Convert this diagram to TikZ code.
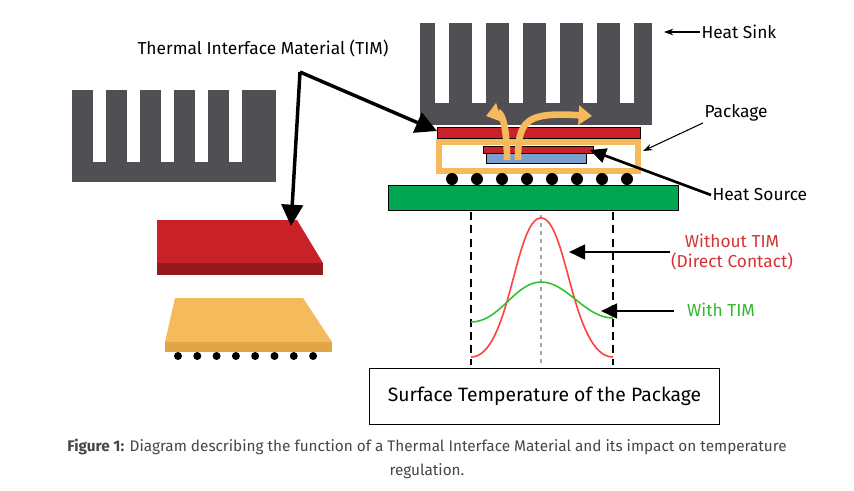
\documentclass[tikz,border=0pt]{standalone}
\usepackage{fontspec}
\setmainfont{Fira Sans}
\usetikzlibrary{arrows.meta}
\definecolor{sink}{RGB}{80,79,84}
\definecolor{timred}{RGB}{200,34,40}
\definecolor{timdark}{RGB}{150,25,30}
\definecolor{pkg}{RGB}{244,186,92}
\definecolor{pkgdark}{RGB}{225,165,70}
\definecolor{board}{RGB}{0,166,81}
\definecolor{die}{RGB}{120,160,205}
\definecolor{capg}{RGB}{70,70,70}
\tikzset{
 lbl/.style={inner sep=1pt,font=\fontsize{13}{15}\selectfont},
 thinarr/.style={-{Stealth[length=7pt,width=5pt]},line width=0.8pt},
 bigarr/.style={-{Triangle[length=16pt,width=16pt]},line width=2.6pt},
 midarr/.style={-{Triangle[length=12pt,width=11pt]},line width=2pt},
 vdash/.style={dashed,line width=1.4pt,dash pattern=on 6pt off 4pt},
 ball/.style={fill=black}
}
\begin{document}
\begin{tikzpicture}[x=0.75pt,y=-0.75pt]
\useasboundingbox (0,0) rectangle (854,490);
% right heat sink
\fill[sink] (420,23) rectangle (652,125);
\foreach \x in {435,472,509,546,583,620} \fill[white] (\x,23) rectangle (\x+14,103);
% left heat sink
\fill[sink] (72,90) rectangle (276,182);
\foreach \x in {93,127,161,195,229} \fill[white] (\x,90) rectangle (\x+13,162);
% TIM layer
\fill[timred,draw=black,line width=0.5pt] (437,127) rectangle (640,138);
% package
\draw[pkg,line width=4pt,fill=white] (439,142) rectangle (638,171);
\fill[timred,draw=black,line width=0.5pt] (483,146) rectangle (593,153);
\fill[die,draw=black,line width=0.5pt] (486,153) rectangle (586,163);
\foreach \x in {452,477,502,527,552,577,602,627} \fill[ball] (\x,179) circle (6);
\fill[board,draw=black,line width=0.6pt] (388,185) rectangle (678,210);
% orange arrows
\draw[pkg,line width=5pt,-{Triangle[length=10pt,width=14pt]}] (507,160) .. controls (507,120) and (500,112) .. (486,116);
\draw[pkg,line width=5pt,-{Triangle[length=10pt,width=14pt]}] (518,160) .. controls (518,120) and (526,112) .. (592,116);
% left slabs
\fill[timred] (157,220) -- (297,220) -- (323,263) -- (157,263) -- cycle;
\fill[timdark] (157,263) rectangle (323,275);
\fill[pkg] (175,298) -- (303,298) -- (332,342) -- (165,342) -- cycle;
\fill[pkgdark] (165,342) rectangle (332,352);
\foreach \i in {0,...,7} \fill[ball] (178+19.3*\i,356) circle (4);
% graph
\draw[vdash] (471,212) -- (471,365);
\draw[vdash] (613,212) -- (613,365);
\draw[gray!70,dashed,line width=1pt] (541,215) -- (541,365);
\draw[red!75!white,line width=1.2pt] (471,357) .. controls (510,357) and (515,218) .. (541,218) .. controls (567,218) and (572,357) .. (613,357);
\draw[green!70!black!80!white,line width=1.2pt] (471,322) .. controls (500,322) and (515,282) .. (541,282) .. controls (567,282) and (585,318) .. (613,318);
% labels
\node[lbl,anchor=center] (tim) at (263,48) {Thermal Interface Material (TIM)};
\coordinate (tims) at (300,72);
\draw[bigarr] (tims) -- (437,131);
\draw[bigarr] (tims) -- (291,226);
\node[lbl,anchor=west] (hs) at (700,32) {Heat Sink};
\draw[thinarr] (hs.west) -- (664,32);
\node[lbl,anchor=west] (pk) at (703,113) {Package};
\draw[thinarr] (pk.south west) -- (643,151);
\node[lbl,anchor=west] (src) at (711,195) {Heat Source};
\draw[midarr] (src.west) -- (590,150);
\node[lbl,align=center,text=red!80!black!80!white] (wo) at (732,252) {Without TIM\\(Direct Contact)};
\draw[midarr] (670,252) -- (569,252);
\node[lbl,text=green!65!black!80!white] (w) at (721,310) {With TIM};
\draw[midarr] (674,311) -- (601,311);
\node[draw=black,line width=0.7pt,minimum width=263pt,minimum height=42pt,font=\fontsize{14.5}{17}\selectfont] (box) at (544.5,396) {Surface Temperature of the Package};
\node[text=capg,font=\fontsize{11.5}{14}\selectfont,align=center] (cap) at (427,459) {\textbf{Figure 1:} Diagram describing the function of a Thermal Interface Material and its impact on temperature\\[4pt]regulation.};
\end{tikzpicture}
\end{document}
